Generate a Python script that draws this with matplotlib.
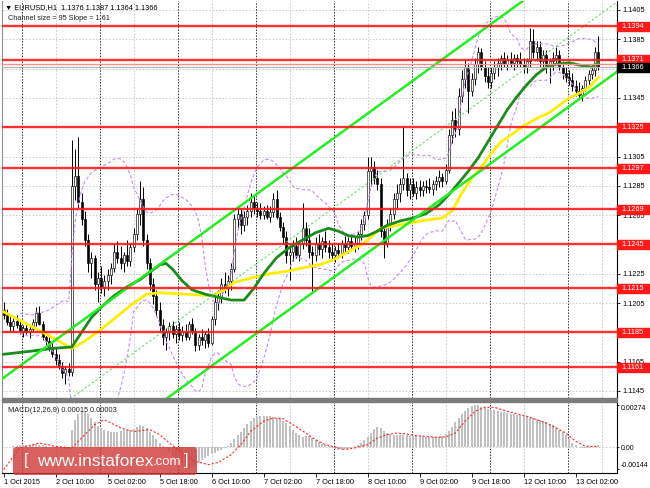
# EURUSD H1 chart in MetaTrader style (price panel + MACD)
import numpy as np
import pandas as pd
import matplotlib
matplotlib.use('Agg')
import matplotlib.pyplot as plt
import matplotlib.transforms as mtransforms
from matplotlib.patches import Rectangle, FancyBboxPatch

plt.rcParams['font.family'] = ['Liberation Sans', 'DejaVu Sans']

# candles, pips above 1.1000 (1 Oct 18:00 ... 13 Oct 09:00)
opens = [200,197,192,189,193,190,186,188,185,187,
         192,198,191,182,179,175,170,166,162,157,
         160,158,285,292,274,262,248,232,236,218,
         222,216,220,224,229,240,236,232,238,234,
         243,252,266,276,248,232,218,210,200,190,
         182,185,189,184,187,183,186,182,191,186,
         176,182,180,184,178,194,206,209,218,215,
         220,228,262,266,258,264,268,274,270,268,
         265,268,264,267,276,264,257,250,238,240,
         244,238,246,256,248,240,238,246,242,247,
         243,240,238,241,239,245,243,247,244,246,
         252,259,265,295,298,290,286,254,246,258,
         266,276,280,286,290,282,286,280,284,282,
         285,284,283,286,288,291,288,296,320,330,
         324,346,358,366,350,358,368,376,366,360,
         356,362,366,369,372,368,371,369,372,370,
         368,366,370,384,376,380,370,374,366,370,
         372,374,366,362,359,357,353,350,347,352,
         357,361,364,376]
highs = [206,201,196,195,197,193,190,192,189,194,
         202,203,193,186,184,179,174,170,165,162,
         164,316,310,318,280,268,252,240,238,226,
         230,224,228,232,245,247,244,240,248,246,
         256,270,288,284,252,236,222,214,206,194,
         188,192,193,190,192,189,191,193,195,188,
         184,187,186,188,196,210,214,222,226,224,
         232,266,270,270,268,272,280,278,274,273,
         271,272,271,280,282,267,260,254,244,248,
         250,248,273,260,256,244,250,252,250,254,
         248,246,244,246,248,251,250,252,250,254,
         262,268,305,305,302,296,290,258,262,270,
         280,286,290,326,294,290,290,288,289,288,
         289,290,289,292,296,294,300,324,336,338,
         352,364,371,369,362,372,380,379,370,366,
         366,370,372,374,376,374,376,375,375,376,
         372,372,393,392,384,384,378,378,372,376,
         380,378,370,366,364,362,357,356,354,360,
         364,368,380,387]
lows = [194,190,186,185,188,184,182,184,181,185,
        189,190,180,176,172,168,163,160,154,150,
        155,155,275,270,258,244,226,222,214,206,
        212,210,214,218,226,232,228,226,230,230,
        240,248,258,244,228,214,204,196,186,176,
        173,180,181,178,180,179,180,180,184,172,
        173,176,174,175,176,190,200,205,212,210,
        214,226,256,252,254,258,264,266,264,262,
        262,262,260,264,262,254,246,232,221,234,
        236,234,242,244,236,212,234,238,236,240,
        236,234,233,236,236,240,239,241,240,242,
        248,255,262,285,286,282,250,236,243,254,
        262,270,274,282,278,276,278,276,278,278,
        280,280,279,282,284,284,286,294,314,318,
        320,342,352,335,346,354,362,364,356,352,
        352,358,360,364,366,364,366,364,366,366,
        362,362,366,372,370,366,364,362,355,364,
        368,364,358,356,354,350,346,344,343,350,
        354,358,360,364]
closes = [197,192,189,193,190,186,188,185,187,192,
          198,191,182,179,175,170,166,162,157,160,
          158,285,292,274,262,248,232,236,218,222,
          216,220,224,229,240,236,232,238,234,243,
          252,266,276,248,232,218,210,200,190,182,
          185,189,184,187,183,186,182,191,186,176,
          182,180,184,178,194,206,209,218,215,220,
          228,262,266,258,264,268,274,270,268,265,
          268,264,267,276,264,257,250,238,240,244,
          238,246,256,248,240,238,246,242,247,243,
          240,238,241,239,245,243,247,244,246,252,
          259,265,295,298,290,286,254,246,258,266,
          276,280,286,290,282,286,280,284,282,285,
          284,283,286,288,291,288,296,320,330,324,
          346,358,366,350,358,368,376,366,360,356,
          362,366,369,372,368,371,369,372,370,368,
          366,370,384,376,380,370,374,366,370,372,
          374,366,362,359,357,353,350,347,352,357,
          361,364,376,366]

# moving averages (bar index, pips)
ma_green_bars = [0,8,15,21,24,27,30,34,38,42,45,48,50,52,55,58,62,66,70,74,77,80,84,88,92,96,100,
                 103,106,109,112,115,118,122,126,130,134,137,140,143,146,149,152,155,158,161,164,
                 167,170,174,178,181,183]
ma_green = [170,172,174,175,185,195,202,210,216,221,226,231,232,228,220,214,211,209,207,207,215,225,
            236,243,248,253,256,254,251,250,251,254,258,261,263,266,272,279,287,295,304,315,326,337,
            346,354,361,366,368,369,367,366,369]
ma_yellow_bars = [0,6,12,17,21,25,30,35,40,44,48,56,64,68,71,76,82,88,92,97,101,106,111,114,116,121,
                  126,131,135,138,141,144,147,150,153,157,160,164,168,171,174,177,180,183]
ma_yellow = [199,192,185,179,174,179,187,196,205,211,212,211,210,214,219,222,225,227,229,231,234,240,
             246,252,256,258,260,262,263,268,280,290,298,307,315,321,326,331,335,340,345,348,352,359]

# horizontal levels
levels = [1.1394, 1.1371, 1.1325, 1.1297, 1.1269, 1.1245, 1.1215, 1.1185, 1.1161]
bid = 1.1366
ask = 1.1368

# regression channel
chan_start = 1.1059
chan_slope = 0.000161
chan_size = 0.0095

# MACD main (1e-5)
macd_hist = [-3,0,3,6,8,10,12,14,15,16,17,15,12,8,3,-2,-5,-8,-10,-12,
             -10,110,175,215,230,228,215,190,160,135,
             122,112,105,100,98,100,104,108,110,112,
             115,128,145,138,120,100,75,50,25,8,
             -10,-35,-60,-85,-105,-125,-135,-140,-138,-125,
             -105,-85,-70,-58,-48,-38,-28,-18,-8,4,
             25,50,75,100,125,150,170,185,193,197,
             198,198,197,195,190,180,168,155,135,110,
             90,75,65,70,72,60,45,30,20,12,
             5,-5,-12,-17,-18,-15,-10,-5,5,15,
             28,45,65,90,115,127,120,105,92,82,
             78,78,78,78,76,74,72,70,69,68,
             66,64,63,63,65,72,85,105,130,160,
             190,215,235,250,262,270,268,258,250,244,
             240,236,232,228,224,220,216,212,208,204,
             200,195,190,185,180,175,168,160,150,140,
             128,112,95,75,50,28,10,-3,-8,-8,
             -5,0,8,15]
signal_bars = [0,5,11,16,21,25,28,31,33,36,40,45,48,51,55,59,63,66,70,73,76,80,83,86,89,93,96,99,
               102,105,108,112,115,118,121,124,127,130,133,136,139,142,145,148,151,155,161,167,173,176,179,183]
signal_vals = [-146,-6,26,4,-6,80,144,176,155,123,100,112,80,26,-39,-92,-114,-100,-50,15,100,166,187,183,144,90,47,15,
               0,-17,-6,15,58,80,90,84,73,69,62,65,90,166,230,256,256,230,198,155,90,37,4,3]

time_ticks = [0,16,32,48,64,80,96,112,128,144,160,176]
time_labels = ['1 Oct 2015','2 Oct 10:00','5 Oct 02:00','5 Oct 18:00','6 Oct 10:00','7 Oct 02:00',
               '7 Oct 18:00','8 Oct 10:00','9 Oct 02:00','9 Oct 18:00','12 Oct 10:00','13 Oct 02:00']
day_starts = [6,30,54,78,102,126,150,174]
grid_bars = [16,40,64,88,112,136,160,184]

# ---------------------------------------------------------------
o = 1.1 + np.array(opens) / 10000
h = 1.1 + np.array(highs) / 10000
l = 1.1 + np.array(lows) / 10000
c = 1.1 + np.array(closes) / 10000
x = np.arange(len(c))

cs = pd.Series(c)
mid = cs.rolling(20, min_periods=6).mean()
sd = cs.rolling(20, min_periods=6).std(ddof=0)
bb_up = mid + 2 * sd
bb_dn = mid - 2 * sd

W, H = 650, 488
fig = plt.figure(figsize=(W / 100, H / 100), dpi=100)
ax = fig.add_axes([2 / W, (H - 398) / H, 615 / W, 397 / H])
axm = fig.add_axes([2 / W, (H - 473) / H, 615 / W, 71 / H])

xmin, xmax = -0.5, -0.5 + 615 / 3.25
fs = 5.3

# price panel
ax.set_xlim(xmin, xmax)
ax.set_ylim(1.1405 - 388 / 14650, 1.1405 + 9 / 14650)
yt = [round(1.1145 + 0.002 * k, 4) for k in range(14)]
hidden = [1.1185, 1.1245, 1.1325, 1.1365]   # sit under the level boxes
ax.set_yticks(yt)
ax.set_yticklabels(['' if v in hidden else '%.4f' % v for v in yt])
ax.yaxis.tick_right()
ax.tick_params(axis='y', labelsize=fs, length=2, pad=2, width=0.6)
ax.set_xticks([])
for v in yt:
    ax.axhline(v, color='#c4c4c4', lw=0.6, ls=(0, (2, 2)), zorder=0)
for b in grid_bars:
    ax.axvline(b, color='#c4c4c4', lw=0.6, ls=(0, (2, 2)), zorder=0)
for b in day_starts:
    ax.axvline(b - 0.5, color='#303030', lw=0.7, ls=(0, (1.5, 1.5)), zorder=0.5)

# candles
bull = c >= o
ax.vlines(x, l, h, color='black', lw=0.7, zorder=2)
body_lo = np.minimum(o, c)
body_h = np.maximum(np.abs(c - o), 0.00004)
ax.bar(x[bull], body_h[bull], bottom=body_lo[bull], width=0.62, color='white',
       edgecolor='black', linewidth=0.45, zorder=3)
ax.bar(x[~bull], body_h[~bull], bottom=body_lo[~bull], width=0.62, color='black',
       edgecolor='black', linewidth=0.45, zorder=3)

# indicators
ax.plot(x, bb_up, color='#c58ce8', lw=0.8, ls=(0, (3, 2)), zorder=4)
ax.plot(x, bb_dn, color='#c58ce8', lw=0.8, ls=(0, (3, 2)), zorder=4)
ax.plot(ma_yellow_bars, 1.1 + np.array(ma_yellow) / 10000, color='#ffee00', lw=2.0,
        solid_joinstyle='round', zorder=4.5)
ax.plot(ma_green_bars, 1.1 + np.array(ma_green) / 10000, color='#1a8c1a', lw=2.0,
        solid_joinstyle='round', zorder=4.6)

cx = np.array([xmin, xmax])
low_line = chan_start + chan_slope * cx
ax.plot(cx, low_line, color='#22ee22', lw=1.8, zorder=5)
ax.plot(cx, low_line + chan_size, color='#22ee22', lw=1.8, zorder=5)
ax.plot(cx, low_line + chan_size / 2, color='#66dd66', lw=0.8, ls=(0, (2, 2)), zorder=5)

for lv in levels:
    ax.axhline(lv, color='#ff1a1a', lw=1.7, alpha=0.9, zorder=6)
ax.axhline(ask, color='#ff8c8c', lw=1.0, zorder=6)
ax.axhline(bid, color='#b4b4b4', lw=0.9, zorder=6)

tr = mtransforms.blended_transform_factory(ax.transAxes, ax.transData)
hh = 4.6 / 14650
for lv, bg in [(v, '#ff1a1a') for v in levels] + [(bid, 'black')]:
    ax.add_patch(Rectangle((1.0, lv - hh), 34 / 615, 2 * hh, transform=tr, color=bg,
                           clip_on=False, zorder=8))
    ax.text(1.0 + 4 / 615, lv, '%.4f' % lv, transform=tr, color='white', fontsize=fs,
            va='center', ha='left', clip_on=False, zorder=9)

for s in ['top', 'bottom']:
    ax.spines[s].set_visible(False)
ax.spines['left'].set_color('#909090')
ax.spines['right'].set_color('black')
ax.spines['right'].set_linewidth(0.8)

fig.text(5 / W, 1 - 7.5 / H, '\u25bc EURUSD,H1  1.1376 1.1387 1.1364 1.1366', fontsize=fs,
         va='center', ha='left', color='black')
fig.text(8 / W, 1 - 19 / H, 'Channel size = 95 Slope = 1.61', fontsize=fs,
         va='center', ha='left', color='#202020')

# MACD panel
hist = np.array(macd_hist) / 1e5
axm.set_xlim(xmin, xmax)
axm.set_ylim(-26 / 15500, 45 / 15500)
axm.bar(x, hist, width=0.55, color='#c0c0c0', zorder=2)
axm.plot(signal_bars, np.array(signal_vals) / 1e5, color='#ff2a2a', lw=0.8,
         ls=(0, (2, 1.6)), zorder=3)
axm.axhline(0, color='#c4c4c4', lw=0.6, ls=(0, (2, 2)), zorder=0)
for b in grid_bars:
    axm.axvline(b, color='#c4c4c4', lw=0.6, ls=(0, (2, 2)), zorder=0)
for b in day_starts:
    axm.axvline(b - 0.5, color='#303030', lw=0.7, ls=(0, (1.5, 1.5)), zorder=0.5)
axm.yaxis.tick_right()
axm.set_yticks([0.00274, 0.0, -0.00144])
axm.set_yticklabels(['0.00274', '0.00', '-0.00144'])
axm.tick_params(axis='y', labelsize=5.0, length=1.5, pad=1, width=0.6)
labs = axm.get_yticklabels()
labs[0].set_va('top')
labs[2].set_va('bottom')
axm.set_xticks(time_ticks)
axm.set_xticklabels(time_labels)
axm.tick_params(axis='x', labelsize=fs, length=3, pad=1.5, width=0.6)
for t in axm.get_xticklabels():
    t.set_ha('left')
axm.spines['top'].set_visible(False)
axm.spines['left'].set_color('#909090')
axm.spines['right'].set_linewidth(0.8)
axm.spines['bottom'].set_linewidth(0.8)
axm.text(6 / 615, 1 - 8 / 71, 'MACD(12,26,9) 0.00015 0.00003', transform=axm.transAxes,
         fontsize=fs, va='center', ha='left', color='#202020')

# panel separator
fig.patches.append(Rectangle((2 / W, (H - 402) / H), 615 / W, 4 / H, transform=fig.transFigure,
                             color='#7c7c7c', zorder=5))

# watermark
idt = mtransforms.IdentityTransform()
fig.patches.append(FancyBboxPatch((13, H - 475), 184, 28, boxstyle='round,pad=0,rounding_size=3',
                                  transform=idt, fc='#d23c3c', ec='none', alpha=0.82, zorder=20))
fig.text(24 / W, 1 - 461 / H, '[', fontsize=12, color='white', va='center', ha='left', zorder=21)
fig.text(153 / W, 1 - 461 / H, 'www.instaforex', fontsize=12.4, color='white', va='center',
         ha='right', zorder=21)
fig.text(153 / W, 1 - 462 / H, '.com', fontsize=9.5, color='white', va='center', ha='left', zorder=21)
fig.text(184 / W, 1 - 461 / H, ']', fontsize=12, color='white', va='center', ha='left', zorder=21)

fig.savefig('out.png', dpi=100, facecolor='white')
